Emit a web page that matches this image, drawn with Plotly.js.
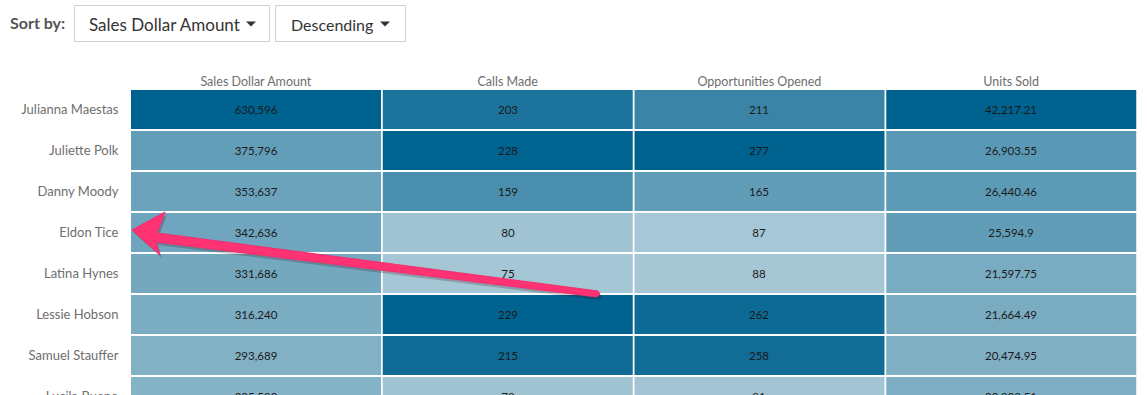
<!DOCTYPE html>
<html>
<head>
<meta charset="utf-8">
<script src="https://cdn.plot.ly/plotly-3.0.1.min.js"></script>
<style>
html,body{margin:0;padding:0;background:#fff;overflow:hidden;}
#chart{width:1147px;height:430px;}
</style>
</head>
<body>
<div id="chart"></div>
<script>
// ---- data ----
const reps = ["Julianna Maestas","Juliette Polk","Danny Moody","Eldon Tice","Latina Hynes","Lessie Hobson","Samuel Stauffer","Lucila Bueno"];
const metrics = ["Sales Dollar Amount","Calls Made","Opportunities Opened","Units Sold"];
const salesDollarAmount = [630596, 375796, 353637, 342636, 331686, 316240, 293689, 285590];
const callsMade = [203, 228, 159, 80, 75, 229, 215, 79];
const opportunitiesOpened = [211, 277, 165, 87, 88, 262, 258, 91];
const unitsSold = [42217.21, 26903.55, 26440.46, 25594.9, 21597.75, 21664.49, 20474.95, 20939.51];
// colour range bounds per column (full data extends below the visible rows)
const columnMin = [191000, 70, 83, 13300];
const columnMax = [630596, 229, 277, 42217.21];
const sortOptions = ["Sales Dollar Amount", "Descending"];

const series = [salesDollarAmount, callsMade, opportunitiesOpened, unitsSold];
// the figure is taller than the 395px window; the bottom row is cut by the window edge, as in the reference
const W = 1147, H = 430, ML = 130, MR = 10, MT = 89, MB = 0;
const PW = W - ML - MR, PH = H - MT - MB;
const px = v => (v - ML) / PW;
const py = v => (H - MB - v) / PH;

const fmt = v => v.toLocaleString('en-US', {maximumFractionDigits: 2});
const rowIdx = reps.map((_, i) => i);
const colIdx = metrics.map((_, i) => i);

const traces = series.map((vals, c) => ({
  type: 'heatmap',
  x: [c - 0.5, c + 0.5],           // column edges
  y: rowIdx,
  z: vals.map(v => [v]),
  text: vals.map(v => [fmt(v)]),
  texttemplate: '%{text}',
  textfont: {family: 'Lato, sans-serif', size: 11.5, color: '#1a1a1a'},
  zmin: columnMin[c],
  zmax: columnMax[c],
  colorscale: [[0, '#AAC9D6'], [1, '#00628F']],
  showscale: false,
  xgap: 2,
  ygap: 2,
  hoverinfo: 'skip'
}));

function P(pts) {
  return 'M' + pts.map(p => px(p[0]).toFixed(5) + ',' + py(p[1]).toFixed(5)).join(' L') + ' Z';
}
const arrowPts = [[132,230],[165,212],[157,233],[598,291],[600,294],[597,297],[156,242],[160,255]];
const shadowPts = arrowPts.map(p => [p[0] + 2, p[1] + 3]);
const tri = (cx, cy) => P([[cx - 5, cy - 2.5], [cx + 5, cy - 2.5], [cx, cy + 2.5]]);

const shapes = [
  {type: 'rect', xref: 'paper', yref: 'paper', x0: px(74.5), x1: px(269.5), y0: py(41.5), y1: py(5.5),
   line: {color: '#cfcfcf', width: 1}, fillcolor: '#ffffff', layer: 'above'},
  {type: 'rect', xref: 'paper', yref: 'paper', x0: px(275.5), x1: px(405.5), y0: py(41.5), y1: py(5.5),
   line: {color: '#cfcfcf', width: 1}, fillcolor: '#ffffff', layer: 'above'},
  {type: 'path', xref: 'paper', yref: 'paper', path: tri(251, 24), fillcolor: '#333333', line: {width: 0}, layer: 'above'},
  {type: 'path', xref: 'paper', yref: 'paper', path: tri(385, 24), fillcolor: '#333333', line: {width: 0}, layer: 'above'},
  {type: 'path', xref: 'paper', yref: 'paper', path: P(shadowPts), fillcolor: 'rgba(60,0,20,0.22)', line: {width: 0}, layer: 'above'},
  {type: 'path', xref: 'paper', yref: 'paper', path: P(arrowPts), fillcolor: '#FF3374', line: {color: '#F52D6C', width: 1}, layer: 'above'}
];

const annotations = [
  {xref: 'paper', yref: 'paper', x: px(8), y: py(23), xanchor: 'left', yanchor: 'middle', showarrow: false,
   text: '<b>Sort by:</b>', font: {family: 'Lato, sans-serif', size: 16, color: '#555555'}},
  {xref: 'paper', yref: 'paper', x: px(87), y: py(24.5), xanchor: 'left', yanchor: 'middle', showarrow: false,
   text: sortOptions[0], font: {family: 'Lato, sans-serif', size: 17, color: '#333333'}},
  {xref: 'paper', yref: 'paper', x: px(289), y: py(24.5), xanchor: 'left', yanchor: 'middle', showarrow: false,
   text: sortOptions[1], font: {family: 'Lato, sans-serif', size: 16, color: '#333333'}}
];

const layout = {
  width: W, height: H,
  margin: {l: ML, r: MR, t: MT, b: MB, pad: 0},
  paper_bgcolor: '#ffffff', plot_bgcolor: '#ffffff',
  showlegend: false,
  xaxis: {range: [-0.5, 3.5], tickmode: 'array', tickvals: colIdx, ticktext: metrics, side: 'top',
          showgrid: false, zeroline: false, showline: false, ticks: '', ticklen: 0,
          tickfont: {family: 'Lato, sans-serif', size: 12.5, color: '#6e6e6e'}, fixedrange: true},
  yaxis: {range: [-0.5 + PH / 41, -0.5], tickmode: 'array', tickvals: rowIdx, ticktext: reps,
          showgrid: false, zeroline: false, showline: false, ticks: 'outside', ticklen: 8, tickcolor: 'rgba(0,0,0,0)',
          tickfont: {family: 'Lato, sans-serif', size: 13, color: '#6e6e6e'}, fixedrange: true},
  shapes: shapes,
  annotations: annotations
};

Plotly.newPlot('chart', traces, layout, {displayModeBar: false, staticPlot: true});
</script>
</body>
</html>
